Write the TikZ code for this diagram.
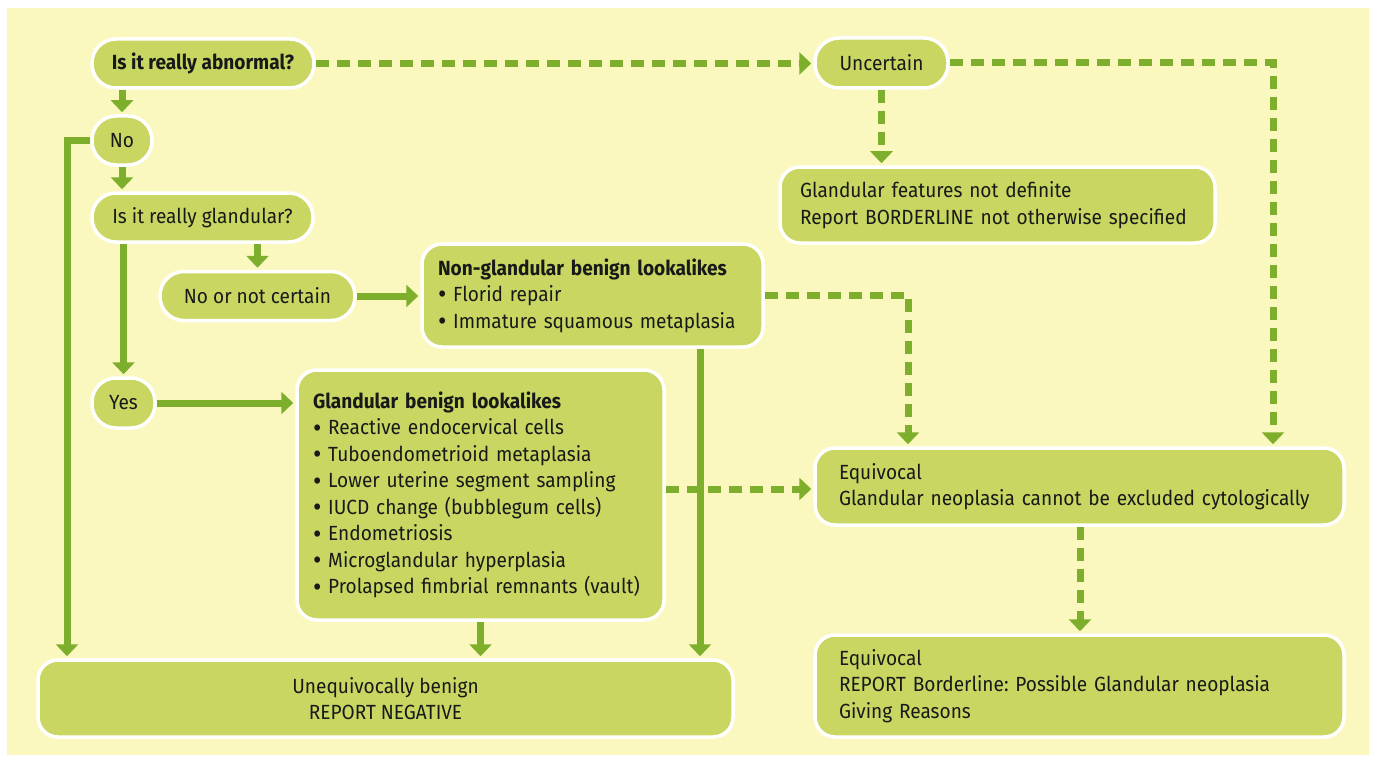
\documentclass[tikz,border=0pt]{standalone}
\usepackage{fontspec}
\setmainfont{Fira Sans}[FakeStretch=0.93]
\usetikzlibrary{arrows.meta}
\definecolor{bgc}{HTML}{FBF8BF}
\definecolor{boxc}{HTML}{C9D762}
\definecolor{linec}{HTML}{7DAF2C}
\newcommand{\bul}{\raisebox{-0.11em}{\scalebox{1.35}{\textbullet}}\ }
\begin{document}
\frenchspacing
\begin{tikzpicture}[x=1pt,y=-1pt,
  base/.style={draw=white, line width=3.5pt, fill=boxc, inner sep=0pt,
    font=\fontsize{20.5}{26.5}\selectfont, text=black!90},
  pill/.style={base, rounded corners=24pt, minimum height=49pt},
  tbox/.style={base, rounded corners=20pt, align=left, inner xsep=16pt},
  sarr/.style={draw=linec, line width=7pt, -{Triangle[width=22pt,length=12pt]}, shorten >=2pt},
  darr/.style={sarr, dash pattern=on 13pt off 8pt},
  sline/.style={draw=linec, line width=7pt}
]
\useasboundingbox (0,0) rectangle (1373,757);
\fill[white] (0,0) rectangle (1373,757);
\fill[bgc] (7,8) rectangle (1369,755);

% nodes
\node[pill, minimum width=222pt, font=\fontsize{20.5}{26.5}\selectfont\bfseries] (abn) at (203,63.5) {Is it really abnormal?};
\node[pill, minimum width=60pt] (no1) at (122,140.5) {No};
\node[pill, minimum width=221pt] (gland) at (202.5,217.5) {Is it really glandular?};
\node[pill, minimum width=195pt] (nonc) at (257.5,296) {No or not certain};
\node[tbox, text width=309pt, minimum height=103pt] (nong) at (592.5,295.5)
  {\textbf{Non-glandular benign lookalikes}\\\bul Florid repair\\\bul Immature squamous metaplasia};
\node[pill, minimum width=63pt, minimum height=50pt] (yes) at (123.5,403) {Yes};
\node[tbox, text width=335pt, minimum height=250pt] (glb) at (480.5,495)
  {\textbf{Glandular benign lookalikes}\\
   \bul Reactive endocervical cells\\
   \bul Tuboendometrioid metaplasia\\
   \bul Lower uterine segment sampling\\
   \bul IUCD change (bubblegum cells)\\
   \bul Endometriosis\\
   \bul Microglandular hyperplasia\\
   \bul Prolapsed fimbrial remnants (vault)};
\node[base, rounded corners=20pt, align=center, minimum width=695pt, minimum height=77pt] (ben) at (385.5,698.5)
  {Unequivocally benign\\REPORT NEGATIVE};
\node[pill, minimum width=133pt, minimum height=50pt] (unc) at (881.5,63) {Uncertain};
\node[tbox, minimum height=76pt, inner xsep=20pt, text width=395pt] (gfnd) at (997.5,205)
  {Glandular features not definite\\Report BORDERLINE not otherwise specified};
\node[tbox, text width=481pt, minimum height=77pt, inner xsep=24pt] (equ) at (1079.5,486.5)
  {Equivocal\\Glandular neoplasia cannot be excluded cytologically};
\node[tbox, text width=481pt, minimum height=102pt, inner xsep=24pt] (fin) at (1079.5,686)
  {Equivocal\\REPORT Borderline: Possible Glandular neoplasia\\Giving Reasons};

\coordinate (lx) at (67,0);
\coordinate (c700) at (700,0);
\coordinate (c908) at (908,0);
\coordinate (c1273) at (1273,0);
\coordinate (c1080) at (1080,0);

% solid connectors
\draw[sarr] (no1.north |- abn.south) -- (no1.north);
\draw[sarr] (no1.south) -- (gland.north -| no1.south);
\draw[sarr] (no1.west) -| (lx |- ben.north);
\draw[sarr] (yes.north |- gland.south) -- (yes.north);
\draw[sarr] (nonc.north |- gland.south) -- (nonc.north);
\draw[sarr] (nonc.east) -- (nonc.east -| nong.west);
\draw[sarr] (yes.east) -- (yes.east -| glb.west);
\draw[sarr] (glb.south) -- (glb.south |- ben.north);
\draw[sarr] (c700 |- nong.south) -- (c700 |- ben.north);

% dashed connectors
\draw[darr] (abn.east) -- (abn.east -| unc.west);
\draw[darr] (unc.south) -- (unc.south |- gfnd.north);
\draw[darr] (unc.east) -| (c1273 |- equ.north);
\draw[darr] (nong.east) -| (c908 |- equ.north);
\draw[darr] (glb.east |- 0,489) -- (equ.west |- 0,489);
\draw[darr] (c1080 |- equ.south) -- (c1080 |- fin.north);
\end{tikzpicture}
\end{document}
